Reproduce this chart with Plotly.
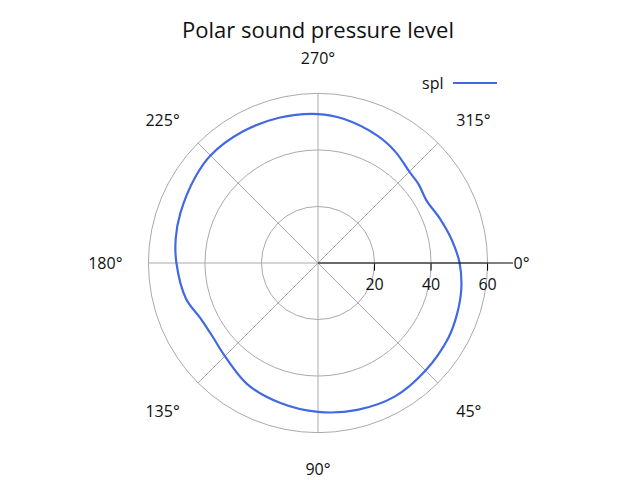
import plotly.graph_objects as go

theta_deg = [0, 10, 20, 30, 45, 60, 75, 90, 105, 120, 135, 145, 155, 165, 180,
             190, 200, 215, 225, 240, 255, 270, 280, 295, 305, 315, 322, 330, 340, 350, 360]
spl = [50.1, 51.5, 52.4, 53.2, 53.8, 54.5, 53.8, 52.7, 51.3, 49.7, 46.6, 45.5, 46.0, 48.4, 50.1,
       51.1, 51.8, 53.0, 53.8, 53.6, 53.2, 52.7, 51.8, 49.7, 47.9, 45.7, 45.2, 44.3, 45.9, 48.0, 50.1]

angle_ticks = [0, 45, 90, 135, 180, 225, 270, 315]
radial_ticks = [20, 40, 60]
radial_max = 69
spoke_len = 60

FONT = "Open Sans"
# page body has an 8px margin; figure fills the rest of the 640x480 window
OFF = 8
W, H = 640 - OFF, 480 - OFF


def fx(x):
    return (x - OFF) / W


def fy(y):
    return 1 - (y - OFF) / H


fig = go.Figure()

# angular spokes reaching the outer grid circle
for a in angle_ticks:
    fig.add_trace(go.Scatterpolar(r=[0, spoke_len], theta=[a, a], mode="lines",
                                  line=dict(color="#aaaaaa", width=1),
                                  showlegend=False, hoverinfo="skip"))

fig.add_trace(go.Scatterpolar(r=spl, theta=theta_deg, mode="lines", name="spl",
                              line=dict(color="#4169e1", width=2.2, shape="spline"),
                              showlegend=False))

fig.update_layout(
    width=W, height=H,
    margin=dict(l=0, r=0, t=0, b=0),
    paper_bgcolor="white",
    font=dict(family=FONT, size=16, color="#111111"),
    title=dict(text="Polar sound pressure level", x=fx(318), xanchor="center",
               y=fy(30), yanchor="middle", font=dict(family=FONT, size=22, color="#111111")),
    polar=dict(
        domain=dict(x=[fx(123), fx(513)], y=[fy(458), fy(68)]),
        bgcolor="white",
        angularaxis=dict(direction="clockwise", rotation=0, tickvals=angle_ticks,
                         ticktext=[f"{a}°" for a in angle_ticks],
                         showgrid=False, showline=False, ticks="",
                         tickfont=dict(size=16, color="#111111")),
        radialaxis=dict(range=[0, radial_max], angle=0, tickvals=radial_ticks,
                        showgrid=True, gridcolor="#aaaaaa", gridwidth=1,
                        showline=True, linecolor="black", linewidth=1.2,
                        ticks="outside", ticklen=7, tickcolor="black",
                        side="clockwise", tickangle=0,
                        tickfont=dict(size=16, color="#111111")),
    ),
    annotations=[dict(text="spl", x=fx(445), y=fy(83), xref="paper", yref="paper",
                      xanchor="right", yanchor="middle", showarrow=False,
                      font=dict(family=FONT, size=16, color="#111111"))],
    shapes=[dict(type="line", xref="paper", yref="paper",
                 x0=fx(453), x1=fx(497), y0=fy(83), y1=fy(83),
                 line=dict(color="#4169e1", width=2))],
)

fig.write_html("out.html")
